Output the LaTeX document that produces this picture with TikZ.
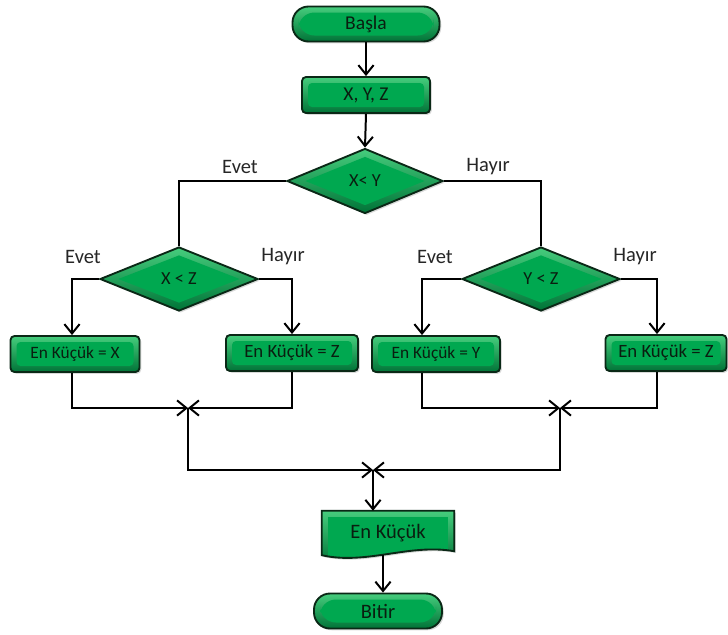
\documentclass[tikz,border=0pt]{standalone}
\usepackage{fontspec}
\setmainfont{Carlito}
\usetikzlibrary{shapes.geometric, arrows.meta, shadows, backgrounds}

\definecolor{boxgreen}{RGB}{0,168,80}
\definecolor{boxlight}{RGB}{70,205,125}
\definecolor{boxdark}{RGB}{0,115,55}
\definecolor{boxline}{RGB}{10,40,22}
\definecolor{boxtext}{RGB}{10,30,16}

\newdimen\px
\px=0.03cm

\tikzset{
    base/.style={draw=boxline, line width=1.6pt, top color=boxlight, bottom color=boxdark,
        text=boxtext, inner sep=0pt,
        drop shadow={opacity=0.3, shadow xshift=1.5pt, shadow yshift=-1.5pt}},
    bevel/.style={path picture={\fill[boxgreen]
        ([shift={(6\px,-6\px)}]path picture bounding box.north west) rectangle
        ([shift={(-6\px,6\px)}]path picture bounding box.south east);}},
    term/.style={base, bevel, rounded corners=16\px, font=\fontsize{16.7}{18}\selectfont},
    proc/.style={base, bevel, rounded corners=4\px, font=\fontsize{16.7}{18}\selectfont},
    small/.style={base, bevel, rounded corners=4\px, minimum height=36\px, font=\fontsize{15.5}{18}\selectfont},
    cond/.style={base, diamond, font=\fontsize{15.7}{18}\selectfont,
        path picture={\fill[boxgreen]
        ([yshift=-8\px]path picture bounding box.north) -- ([xshift=-18\px]path picture bounding box.east)
        -- ([yshift=8\px]path picture bounding box.south) -- ([xshift=18\px]path picture bounding box.west) -- cycle;}},
    lbl/.style={font=\fontsize{17.5}{20}\selectfont, text=black!85},
    wire/.style={line width=1.7pt, black},
    arr/.style={wire, -{Straight Barb[length=8pt, width=13pt, line width=1.7pt]}},
}

\begin{document}
\begin{tikzpicture}[x=\px, y=-\px]
    \useasboundingbox (0,0) rectangle (728,634);

    % ust kisim
    \node[term, minimum width=147\px, minimum height=35\px] (basla) at (366,24) {Başla};
    \node[proc, minimum width=128\px, minimum height=36\px] (giris) at (366,95) {X, Y, Z};
    \node[cond, minimum width=156\px, minimum height=65\px] (xy) at (365,181) {X< Y};

    % ikinci karar seviyesi
    \node[cond, minimum width=158\px, minimum height=64\px] (xz) at (179,279) {X < Z};
    \node[cond, minimum width=158\px, minimum height=64\px] (yz) at (541,279) {Y < Z};

    % sonuc kutulari
    \node[small, minimum width=129\px, font=\fontsize{14.8}{18}\selectfont] (kx) at (75,354) {En Küçük = X};
    \node[small, minimum width=132\px, font=\fontsize{16}{18}\selectfont] (kz1) at (292,353) {En Küçük = Z};
    \node[small, minimum width=128\px, font=\fontsize{14.8}{18}\selectfont] (ky) at (436,354) {En Küçük = Y};
    \node[small, minimum width=121\px, font=\fontsize{16}{18}\selectfont] (kz2) at (666,353) {En Küçük = Z};

    % birlesme noktalari
    \coordinate (m1) at (188,408);
    \coordinate (m2) at (560,408);
    \coordinate (m3) at (373,470);

    % cikti ve bitis
    \node[text=boxtext, font=\fontsize{17.5}{20}\selectfont, minimum width=132\px,
          minimum height=44\px, inner sep=0pt] (cikti) at (388,533) {En Küçük};
    \begin{scope}[on background layer]
        \draw[base, bevel] (cikti.north west) -- (cikti.north east)
            -- ([yshift=4\px]cikti.south east)
            .. controls ([xshift=-45\px, yshift=12\px]cikti.south east)
            and ([xshift=45\px, yshift=-10\px]cikti.south west) .. (cikti.south west)
            -- cycle;
    \end{scope}
    \node[term, minimum width=128\px, minimum height=35\px, font=\fontsize{17.5}{20}\selectfont] (bitir) at (378,611) {Bitir};

    % etiketler
    \node[lbl] (e1) at (240,167) {Evet};
    \node[lbl] (h1) at (488,167) {Hayır};
    \node[lbl] (e2) at (83,257) {Evet};
    \node[lbl] (h2) at (283,257) {Hayır};
    \node[lbl] (e3) at (435,257) {Evet};
    \node[lbl] (h3) at (635,257) {Hayır};

    % baglantilar
    \draw[arr] (basla.south) -- (giris.north);
    \draw[arr] (giris.south) -- (xy.north);
    \draw[wire] (xy.west) -| (xz.north);
    \draw[wire] (xy.east) -| (yz.north);
    \draw[arr] (xz.west) -| ([xshift=-3\px]kx.north);
    \draw[arr] (xz.east) -| (kz1.north);
    \draw[arr] (yz.west) -| ([xshift=-14\px]ky.north);
    \draw[arr] (yz.east) -| ([xshift=-9\px]kz2.north);

    \draw[arr] ([xshift=-3\px]kx.south) |- (m1);
    \draw[arr] (kz1.south) |- (m1);
    \draw[arr] ([xshift=-14\px]ky.south) |- (m2);
    \draw[arr] ([xshift=-9\px]kz2.south) |- (m2);
    \draw[arr] (m1) |- (m3);
    \draw[arr] (m2) |- (m3);
    \draw[arr] (m3) -- (m3 |- cikti.north);
    \draw[arr] ([xshift=-5\px]cikti.south) -- ([xshift=5\px]bitir.north);
\end{tikzpicture}
\end{document}
